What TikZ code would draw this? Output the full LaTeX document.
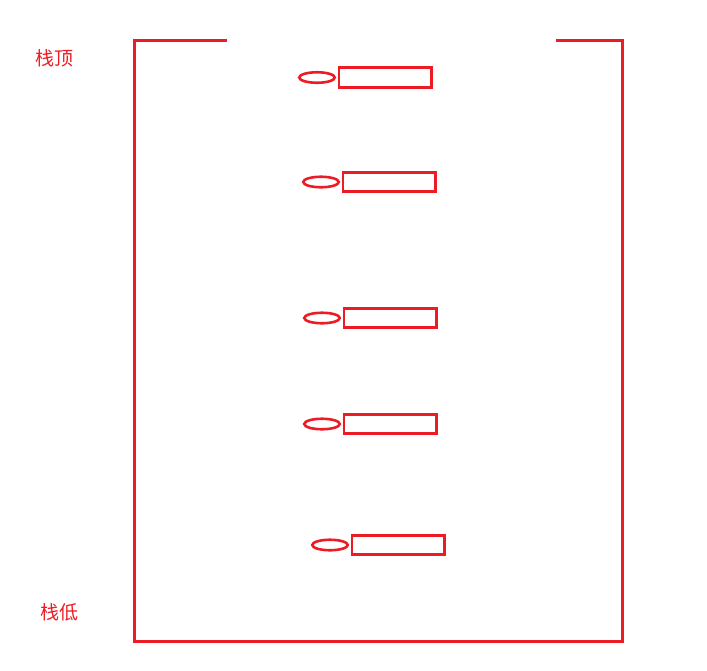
\documentclass[tikz,border=0pt]{standalone}
\usepackage{fontspec}
\newfontfamily\cjk{Noto Sans CJK SC}
\usetikzlibrary{shapes.geometric}

\definecolor{paintred}{RGB}{237,28,36}

\tikzset{
    elem/.style={draw=paintred, line width=2.8pt, rectangle, minimum width=92.5pt, minimum height=19.5pt, inner sep=0pt},
    tag/.style={draw=paintred, line width=2.6pt, ellipse, minimum width=35.5pt, minimum height=10.5pt, inner sep=0pt},
    lbl/.style={text=paintred, font=\cjk\fontsize{19pt}{21pt}\selectfont, inner sep=0pt}
}

\begin{document}
\begin{tikzpicture}[x=1pt, y=-1pt]
    \useasboundingbox (0,0) rectangle (707,670);

    % stack walls
    \draw[paintred, line width=3pt] (227,40) -- (134,40) -- (134,641) -- (622,641) -- (622,40) -- (556,40);

    \node[lbl] (top) at (54,58) {栈顶};
    \node[lbl] (bottom) at (59,612) {栈低};

    % elements, top to bottom
    \foreach \i/\x/\y in {1/317/77.5, 2/321/182, 3/322/318, 4/322/424, 5/330/545} {
        \node[tag] (t\i) at (\x,\y) {};
        \node[elem, anchor=west] (e\i) at ([xshift=1.5pt]t\i.east) {};
    }
\end{tikzpicture}
\end{document}
